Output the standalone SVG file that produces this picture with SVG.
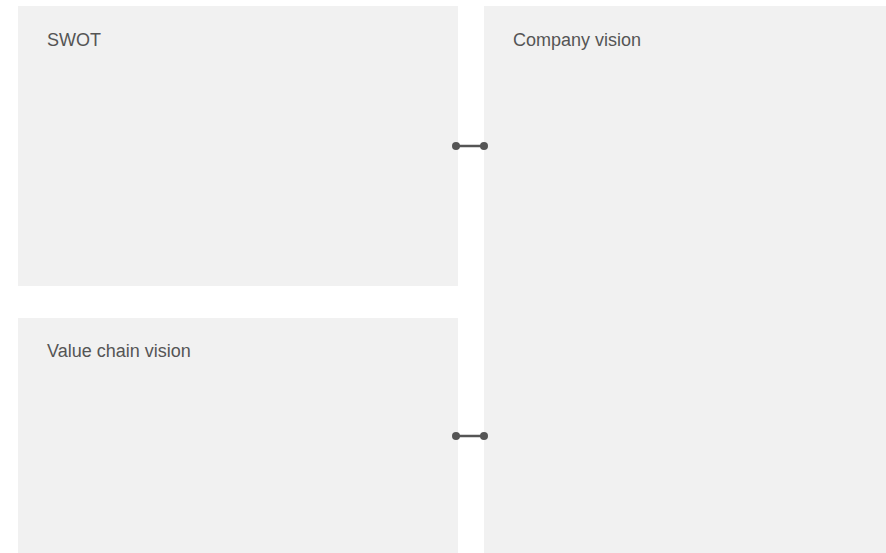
<svg xmlns="http://www.w3.org/2000/svg" width="886" height="553" viewBox="0 0 886 553">
<defs>
<style>
.box{fill:#f1f1f1;}
.lbl{font-family:"Liberation Sans",Arial,sans-serif;font-size:18px;fill:#555555;}
.conn{stroke:#555555;stroke-width:2.5;fill:none;}
.dot{fill:#555555;}
</style>
</defs>
<rect width="886" height="553" fill="#ffffff"/>
<g id="swot">
<rect class="box" x="18" y="6" width="440" height="280"/>
<text class="lbl" x="47" y="46">SWOT</text>
</g>
<g id="value-chain-vision">
<rect class="box" x="18" y="318" width="440" height="235"/>
<text class="lbl" x="47" y="357">Value chain vision</text>
</g>
<g id="company-vision">
<rect class="box" x="484" y="6" width="402" height="547"/>
<text class="lbl" x="513" y="46">Company vision</text>
</g>
<g id="connectors">
<line class="conn" x1="456" y1="146" x2="484" y2="146"/>
<circle class="dot" cx="456" cy="146" r="4"/>
<circle class="dot" cx="484" cy="146" r="4"/>
<line class="conn" x1="456" y1="436" x2="484" y2="436"/>
<circle class="dot" cx="456" cy="436" r="4"/>
<circle class="dot" cx="484" cy="436" r="4"/>
</g>
</svg>
